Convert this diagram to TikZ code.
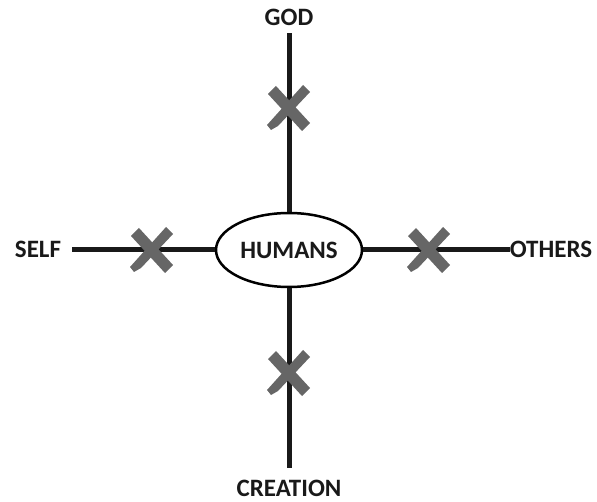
\documentclass[tikz,border=0pt]{standalone}
\usepackage{fontspec}
\setmainfont{Carlito}
\usepackage{tikz}
\usetikzlibrary{shapes.geometric}

\tikzset{
	axis line/.style={line width=5pt, black!90},
	label text/.style={font=\fontsize{25}{29}\selectfont\bfseries, text=black!90, inner sep=0pt},
	cross/.pic={
		\fill[black!60] (-21,14) -- (-13,22) -- (21,-15) -- (13,-23) -- cycle;
		\fill[black!60] (-18,-22) -- (-11,-18) -- (21,16) -- (14,23) -- (-22,-17) -- cycle;
	}
}

\begin{document}
\begin{tikzpicture}[x=1pt, y=1pt]
			\useasboundingbox (0,0) rectangle (597,501);

			\node[draw, ellipse, line width=2.5pt, fill=white, minimum width=146pt,
				minimum height=74pt, label text] (humans) at (289,251) {HUMANS};

			\coordinate (god end) at (289,468);
			\coordinate (creation end) at (289,33);
			\coordinate (self end) at (72,251);
			\coordinate (others end) at (510,251);

			\node[label text] (god) at (289,484) {GOD};
			\node[label text] (creation) at (289,13) {CREATION};
			\node[label text] (self) at (38,252) {SELF};
			\node[label text] (others) at (551,252) {OTHERS};

			\draw[axis line] (humans.north) -- (god end);
			\draw[axis line] (humans.south) -- (creation end);
			\draw[axis line] (humans.west) -- (self end);
			\draw[axis line] (humans.east) -- (others end);

			\pic at (289,393) {cross};
			\pic at (289,128) {cross};
			\pic at (152,251) {cross};
			\pic at (429,251) {cross};
		\end{tikzpicture}
\end{document}
